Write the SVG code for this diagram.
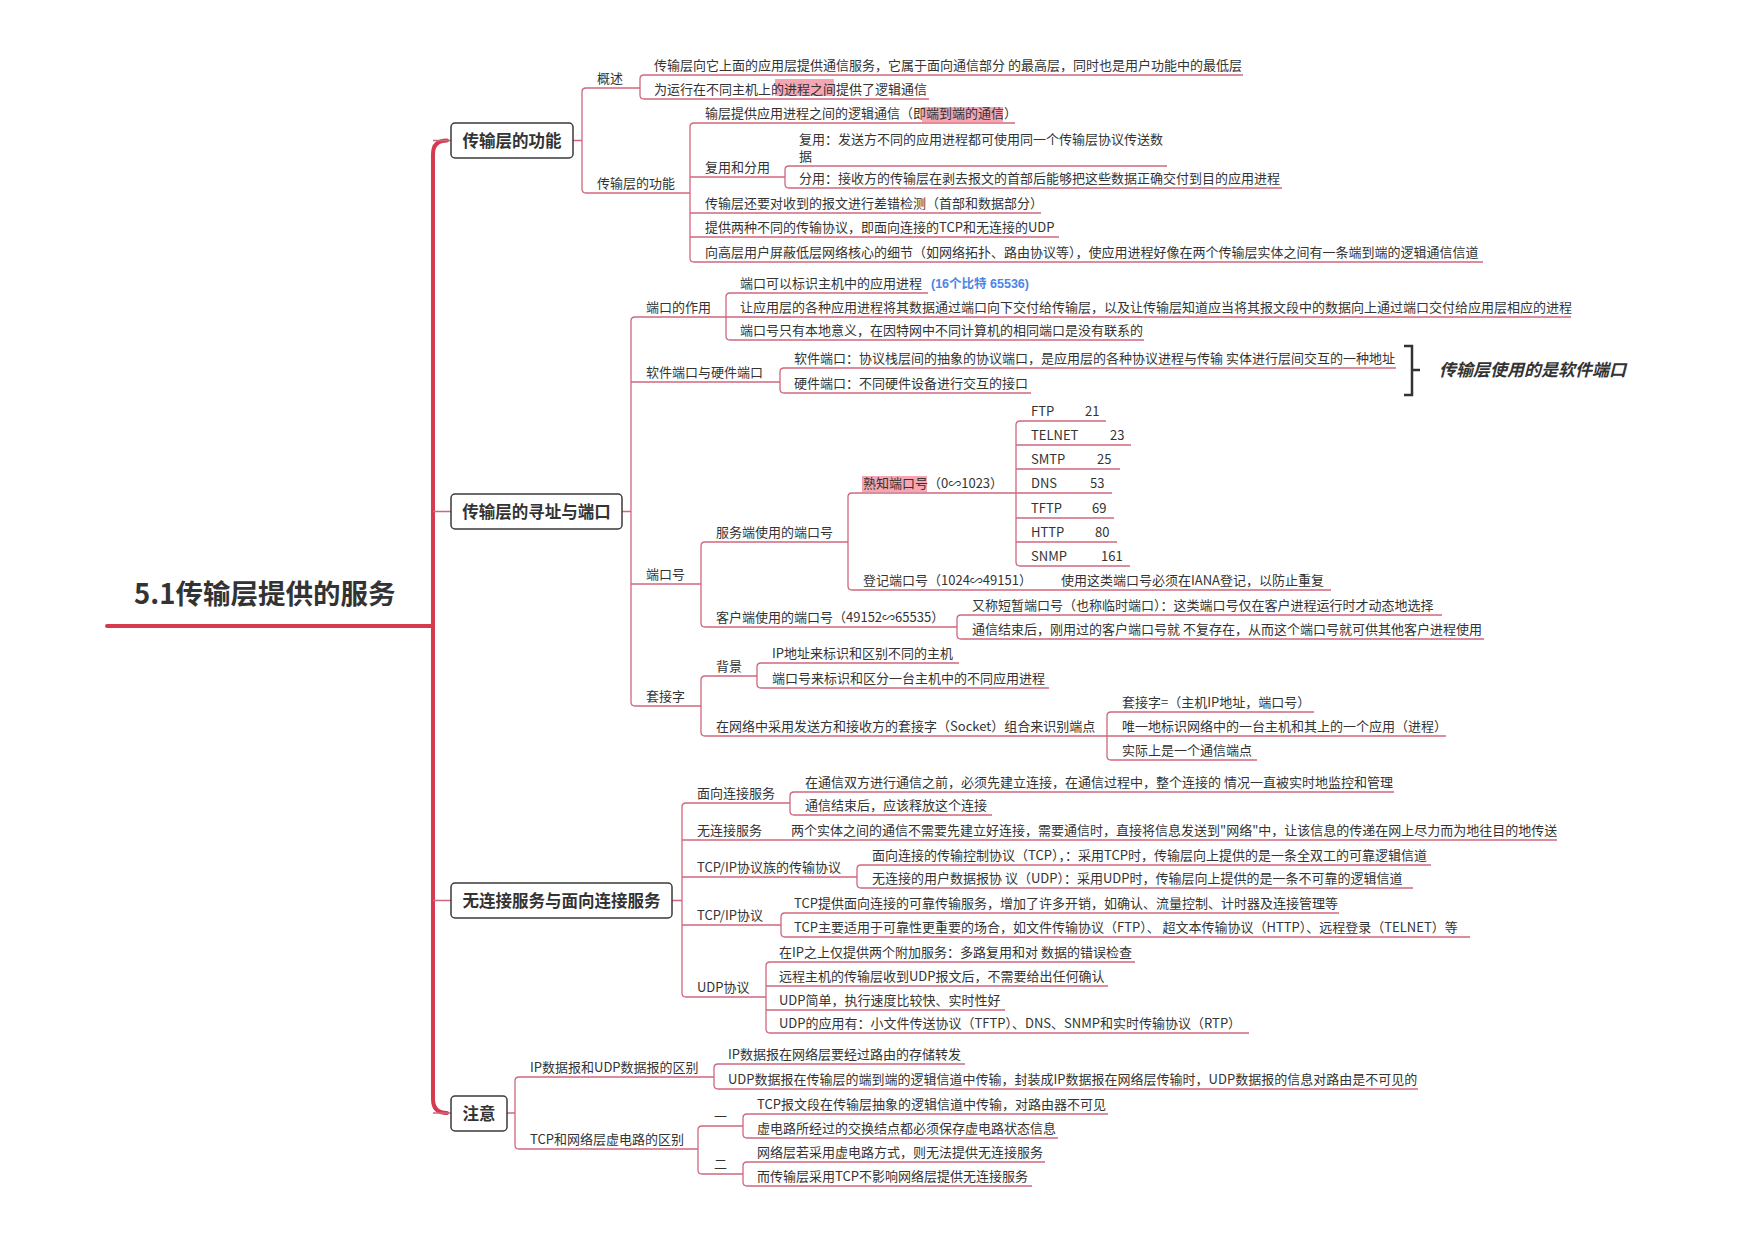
<svg xmlns="http://www.w3.org/2000/svg" width="1755" height="1240" viewBox="0 0 1755 1240">
<style>
text{font-family:"Noto Sans CJK SC","Noto Sans",sans-serif;fill:#333}
.t{font-size:13px}
.b{font-size:16.5px;font-weight:bold;text-anchor:middle}
.box{fill:#fff;stroke:#3a3a3a;stroke-width:1.5}
.c{fill:none;stroke:#d0677d;stroke-width:1.3}
.sp{fill:none;stroke:#d63a50;stroke-width:4;stroke-linecap:round}
.hl{fill:#f08a98;opacity:.75}
.blue{font-family:"Liberation Sans","Noto Sans CJK SC",sans-serif;font-size:12.5px;font-weight:bold;fill:#4a86e8}
.note{font-size:17px;font-weight:bold;font-style:italic}
</style>
<rect width="1755" height="1240" fill="#fff"/>
<g id="connectors">
<path class="sp" d="M107 626H433"/>
<path class="sp" d="M447 140.5Q433 140.5 433 154V1099Q433 1113 447 1113"/>
<path class="c" d="M433 140.5H451M433 511.5H451M433 900.5H451M433 1113H451"/>
<path class="c" d="M573 140.5H582M640 88H586Q582 88 582 92V189Q582 193 586 193H690"/>
<path class="c" d="M1243 75H644Q640 75 640 79V95Q640 99 644 99H929"/>
<path class="c" d="M1015 123H694Q690 123 690 127V258Q690 262 694 262H1483M690 177H785M690 213H1041M690 237H1059"/>
<path class="c" d="M1167 166H789Q785 166 785 170V184Q785 188 789 188H1282"/>
<path class="c" d="M622 511.5H631M726 317H635Q631 317 631 321V702Q631 706 635 706H701M631 382H780M631 584H701"/>
<path class="c" d="M928 293H730Q726 293 726 297V336Q726 340 730 340H1144M726 317H1571"/>
<path class="c" d="M1396 368H784Q780 368 780 372V389Q780 393 784 393H1031"/>
<path class="c" d="M848 542H705Q701 542 701 546V623Q701 627 705 627H957"/>
<path class="c" d="M1016 493H852Q848 493 848 497V586Q848 590 852 590H1331"/>
<path class="c" d="M1106 421H1020Q1016 421 1016 425V562Q1016 566 1020 566H1130M1016 445H1131M1016 469H1120M1016 493H1112M1016 518H1114M1016 542H1117"/>
<path class="c" d="M1442 615H961Q957 615 957 619V635Q957 639 961 639H1484"/>
<path class="c" d="M757 676H705Q701 676 701 680V732Q701 736 705 736H1107"/>
<path class="c" d="M959 663H761Q757 663 757 667V684Q757 688 761 688H1049"/>
<path class="c" d="M1314 712H1111Q1107 712 1107 716V756Q1107 760 1111 760H1257M1107 736H1446"/>
<path class="c" d="M672 900.5H682M790 803H686Q682 803 682 807V993Q682 997 686 997H766M682 840H1557M682 877H857M682 925H781"/>
<path class="c" d="M1394 792H794Q790 792 790 796V811Q790 815 794 815H992"/>
<path class="c" d="M1431 865H861Q857 865 857 869V884Q857 888 861 888H1413"/>
<path class="c" d="M1339 913H785Q781 913 781 917V933Q781 937 785 937H1470"/>
<path class="c" d="M1135 962H770Q766 962 766 966V1029Q766 1033 770 1033H1249M766 986H1108M766 1010H1005"/>
<path class="c" d="M507 1113H515M714 1077H519Q515 1077 515 1081V1145Q515 1149 519 1149H698"/>
<path class="c" d="M965 1064H718Q714 1064 714 1068V1085Q714 1089 718 1089H1418"/>
<path class="c" d="M743 1126H702Q698 1126 698 1130V1170Q698 1174 702 1174H743"/>
<path class="c" d="M1108 1114H747Q743 1114 743 1118V1134Q743 1138 747 1138H1058"/>
<path class="c" d="M1045 1162H747Q743 1162 743 1166V1182Q743 1186 747 1186H1032"/>
</g>
<g id="title"><text x="134" y="604" style="font-size:27.5px;font-weight:bold">5.1传输层提供的服务</text></g>

<g id="n-func"><rect class="box" x="451" y="123" width="122" height="35" rx="4"/><text class="b" x="512" y="146.5">传输层的功能</text></g>
<g id="n-overview"><text class="t" x="597" y="83">概述</text></g>
<g id="n-ov1"><text class="t" x="654" y="70">传输层向它上面的应用层提供通信服务，它属于面向通信部分 的最高层，同时也是用户功能中的最低层</text></g>
<g id="n-ov2"><rect class="hl" x="775" y="79" width="59" height="17"/><text class="t" x="654" y="94">为运行在不同主机上的进程之间提供了逻辑通信</text></g>
<g id="n-func2"><text class="t" x="597" y="188">传输层的功能</text></g>
<g id="n-f1"><rect class="hl" x="922" y="107" width="81" height="16"/><text class="t" x="705" y="118">输层提供应用进程之间的逻辑通信（即端到端的通信）</text></g>
<g id="n-mux"><text class="t" x="705" y="172">复用和分用</text></g>
<g id="n-mux1"><text class="t" x="799" y="144">复用：发送方不同的应用进程都可使用同一个传输层协议传送数</text><text class="t" x="799" y="161">据</text></g>
<g id="n-mux2"><text class="t" x="799" y="183">分用：接收方的传输层在剥去报文的首部后能够把这些数据正确交付到目的应用进程</text></g>
<g id="n-f3"><text class="t" x="705" y="208">传输层还要对收到的报文进行差错检测（首部和数据部分）</text></g>
<g id="n-f4"><text class="t" x="705" y="232">提供两种不同的传输协议，即面向连接的TCP和无连接的UDP</text></g>
<g id="n-f5"><text class="t" x="705" y="257">向高层用户屏蔽低层网络核心的细节（如网络拓扑、路由协议等），使应用进程好像在两个传输层实体之间有一条端到端的逻辑通信信道</text></g>

<g id="n-addr"><rect class="box" x="451" y="494" width="171" height="35" rx="4"/><text class="b" x="536.5" y="517.5">传输层的寻址与端口</text></g>
<g id="n-portrole"><text class="t" x="646" y="312">端口的作用</text></g>
<g id="n-pr1"><text class="t" x="740" y="288">端口可以标识主机中的应用进程</text><text class="blue" x="931" y="288">(16个比特 65536)</text></g>
<g id="n-pr2"><text class="t" x="740" y="312">让应用层的各种应用进程将其数据通过端口向下交付给传输层，以及让传输层知道应当将其报文段中的数据向上通过端口交付给应用层相应的进程</text></g>
<g id="n-pr3"><text class="t" x="740" y="335">端口号只有本地意义，在因特网中不同计算机的相同端口是没有联系的</text></g>
<g id="n-swhw"><text class="t" x="646" y="377">软件端口与硬件端口</text></g>
<g id="n-sw"><text class="t" x="794" y="363">软件端口：协议栈层间的抽象的协议端口，是应用层的各种协议进程与传输 实体进行层间交互的一种地址</text></g>
<g id="n-hw"><text class="t" x="794" y="388">硬件端口：不同硬件设备进行交互的接口</text></g>
<g id="n-note"><path d="M1404 346H1412V395H1404M1412 370H1420" fill="none" stroke="#333" stroke-width="2.5"/><text class="note" x="1439" y="376">传输层使用的是软件端口</text></g>
<g id="n-portno"><text class="t" x="646" y="579">端口号</text></g>
<g id="n-server"><text class="t" x="716" y="537">服务端使用的端口号</text></g>
<g id="n-wk"><rect class="hl" x="862" y="476" width="65" height="16"/><text class="t" x="863" y="488">熟知端口号（0∽1023）</text></g>
<g id="n-ftp"><text class="t" x="1031" y="416">FTP<tspan x="1085">21</tspan></text></g>
<g id="n-telnet"><text class="t" x="1031" y="440">TELNET<tspan x="1110">23</tspan></text></g>
<g id="n-smtp"><text class="t" x="1031" y="464">SMTP<tspan x="1097">25</tspan></text></g>
<g id="n-dns"><text class="t" x="1031" y="488">DNS<tspan x="1090">53</tspan></text></g>
<g id="n-tftp"><text class="t" x="1031" y="513">TFTP<tspan x="1092">69</tspan></text></g>
<g id="n-http"><text class="t" x="1031" y="537">HTTP<tspan x="1095">80</tspan></text></g>
<g id="n-snmp"><text class="t" x="1031" y="561">SNMP<tspan x="1101">161</tspan></text></g>
<g id="n-reg"><text class="t" x="863" y="585">登记端口号（1024∽49151）</text></g>
<g id="n-reg1"><text class="t" x="1061" y="585">使用这类端口号必须在IANA登记，以防止重复</text></g>
<g id="n-client"><text class="t" x="716" y="622">客户端使用的端口号（49152∽65535）</text></g>
<g id="n-cl1"><text class="t" x="972" y="610">又称短暂端口号（也称临时端口）：这类端口号仅在客户进程运行时才动态地选择</text></g>
<g id="n-cl2"><text class="t" x="972" y="634">通信结束后，刚用过的客户端口号就 不复存在，从而这个端口号就可供其他客户进程使用</text></g>
<g id="n-socket"><text class="t" x="646" y="701">套接字</text></g>
<g id="n-bg"><text class="t" x="716" y="671">背景</text></g>
<g id="n-bg1"><text class="t" x="772" y="658">IP地址来标识和区别不同的主机</text></g>
<g id="n-bg2"><text class="t" x="772" y="683">端口号来标识和区分一台主机中的不同应用进程</text></g>
<g id="n-sk"><text class="t" x="716" y="731">在网络中采用发送方和接收方的套接字（Socket）组合来识别端点</text></g>
<g id="n-sk1"><text class="t" x="1122" y="707">套接字=（主机IP地址，端口号）</text></g>
<g id="n-sk2"><text class="t" x="1122" y="731">唯一地标识网络中的一台主机和其上的一个应用（进程）</text></g>
<g id="n-sk3"><text class="t" x="1122" y="755">实际上是一个通信端点</text></g>

<g id="n-conn"><rect class="box" x="451" y="883" width="221" height="35" rx="4"/><text class="b" x="561.5" y="906.5">无连接服务与面向连接服务</text></g>
<g id="n-co"><text class="t" x="697" y="798">面向连接服务</text></g>
<g id="n-co1"><text class="t" x="805" y="787">在通信双方进行通信之前，必须先建立连接，在通信过程中，整个连接的 情况一直被实时地监控和管理</text></g>
<g id="n-co2"><text class="t" x="805" y="810">通信结束后，应该释放这个连接</text></g>
<g id="n-cl"><text class="t" x="697" y="835">无连接服务</text></g>
<g id="n-cl-d"><text class="t" x="791" y="835">两个实体之间的通信不需要先建立好连接，需要通信时，直接将信息发送到"网络"中，让该信息的传递在网上尽力而为地往目的地传送</text></g>
<g id="n-suite"><text class="t" x="697" y="872">TCP/IP协议族的传输协议</text></g>
<g id="n-suite1"><text class="t" x="872" y="860">面向连接的传输控制协议（TCP），：采用TCP时，传输层向上提供的是一条全双工的可靠逻辑信道</text></g>
<g id="n-suite2"><text class="t" x="872" y="883">无连接的用户数据报协 议（UDP）：采用UDP时，传输层向上提供的是一条不可靠的逻辑信道</text></g>
<g id="n-tcp"><text class="t" x="697" y="920">TCP/IP协议</text></g>
<g id="n-tcp1"><text class="t" x="794" y="908">TCP提供面向连接的可靠传输服务，增加了许多开销，如确认、流量控制、计时器及连接管理等</text></g>
<g id="n-tcp2"><text class="t" x="794" y="932">TCP主要适用于可靠性更重要的场合，如文件传输协议（FTP）、 超文本传输协议（HTTP）、远程登录（TELNET）等</text></g>
<g id="n-udp"><text class="t" x="697" y="992">UDP协议</text></g>
<g id="n-udp1"><text class="t" x="779" y="957">在IP之上仅提供两个附加服务：多路复用和对 数据的错误检查</text></g>
<g id="n-udp2"><text class="t" x="779" y="981">远程主机的传输层收到UDP报文后，不需要给出任何确认</text></g>
<g id="n-udp3"><text class="t" x="779" y="1005">UDP简单，执行速度比较快、实时性好</text></g>
<g id="n-udp4"><text class="t" x="779" y="1028">UDP的应用有：小文件传送协议（TFTP）、DNS、SNMP和实时传输协议（RTP）</text></g>

<g id="n-attn"><rect class="box" x="451" y="1096" width="56" height="35" rx="4"/><text class="b" x="479" y="1119.5">注意</text></g>
<g id="n-ipudp"><text class="t" x="530" y="1072">IP数据报和UDP数据报的区别</text></g>
<g id="n-ipudp1"><text class="t" x="728" y="1059">IP数据报在网络层要经过路由的存储转发</text></g>
<g id="n-ipudp2"><text class="t" x="728" y="1084">UDP数据报在传输层的端到端的逻辑信道中传输，封装成IP数据报在网络层传输时，UDP数据报的信息对路由是不可见的</text></g>
<g id="n-vc"><text class="t" x="530" y="1144">TCP和网络层虚电路的区别</text></g>
<g id="n-one"><text class="t" x="714" y="1121">一</text></g>
<g id="n-one1"><text class="t" x="757" y="1109">TCP报文段在传输层抽象的逻辑信道中传输，对路由器不可见</text></g>
<g id="n-one2"><text class="t" x="757" y="1133">虚电路所经过的交换结点都必须保存虚电路状态信息</text></g>
<g id="n-two"><text class="t" x="714" y="1169">二</text></g>
<g id="n-two1"><text class="t" x="757" y="1157">网络层若采用虚电路方式，则无法提供无连接服务</text></g>
<g id="n-two2"><text class="t" x="757" y="1181">而传输层采用TCP不影响网络层提供无连接服务</text></g>
</svg>
